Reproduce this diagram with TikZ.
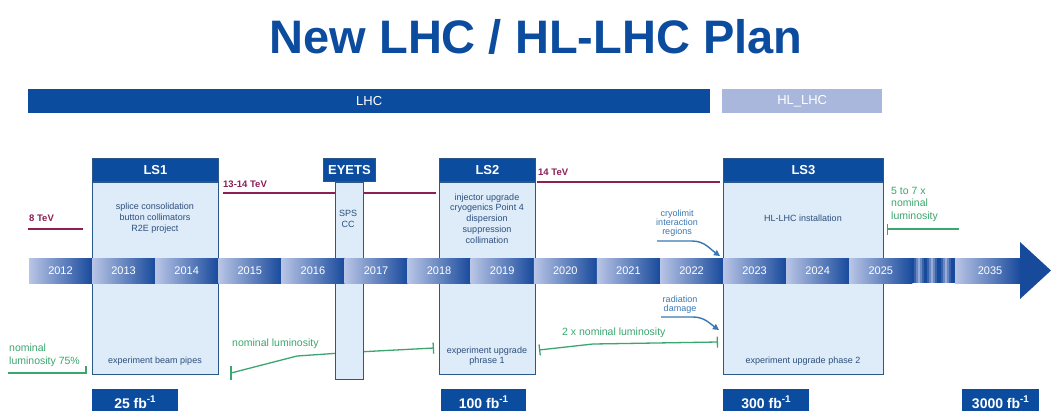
\documentclass[tikz,border=0pt]{standalone}
\usepackage{fontspec}
\setmainfont{Liberation Sans}
\usetikzlibrary{arrows.meta}

\definecolor{hlblue}{HTML}{0B4C9E}
\definecolor{hllight}{HTML}{A9B7DD}
\definecolor{boxfill}{HTML}{DDECF8}
\definecolor{boxline}{HTML}{2A5889}
\definecolor{boxtext}{HTML}{2D4E7C}
\definecolor{yrlight}{HTML}{B9C5E6}
\definecolor{yrdark}{HTML}{184A9C}
\definecolor{tevcol}{HTML}{8C1F56}
\definecolor{lumicol}{HTML}{3BA66E}
\definecolor{notecol}{HTML}{3A78B4}

\tikzset{
  lsbody/.style={draw=boxline,fill=boxfill,line width=0.9pt,inner sep=0pt},
  lshead/.style={draw=boxline,fill=hlblue,line width=0.9pt,text=white,
    font=\bfseries\fontsize{13}{13}\selectfont,inner sep=0pt,minimum height=23pt,anchor=north west},
  boxtxt/.style={text=boxtext,font=\fontsize{9}{11}\selectfont,align=center,inner sep=0pt},
  yearlbl/.style={text=white,font=\fontsize{11}{11}\selectfont},
  tevline/.style={draw=tevcol,line width=2.6pt},
  tevlbl/.style={text=tevcol,font=\bfseries\fontsize{9.5}{9.5}\selectfont,anchor=base west,inner sep=0pt},
  lumiline/.style={draw=lumicol,line width=1.3pt},
  lumilbl/.style={text=lumicol,font=\fontsize{10.5}{13}\selectfont,align=left,inner sep=0pt,anchor=west},
  notelbl/.style={text=notecol,font=\fontsize{9}{9}\selectfont,align=center,inner sep=0pt},
  noteline/.style={draw=notecol,line width=1.4pt,-{Triangle[length=6pt,width=6pt]}},
  fbbox/.style={fill=hlblue,text=white,font=\bfseries\fontsize{14}{14}\selectfont,
    minimum height=26pt,inner sep=0pt,anchor=north west},
  tick/.tip={Bar[width=11pt]}
}

\begin{document}
\begin{tikzpicture}[x=1pt,y=-1pt]
\fill[white] (0,0) rectangle (1051,410);
\useasboundingbox (0,0) rectangle (1051,410);

\node[text=hlblue,font=\bfseries\fontsize{47}{47}\selectfont,anchor=base] (title) at (536,53) {New LHC / HL-LHC Plan};

\node[fill=hlblue,text=white,font=\fontsize{13}{13}\selectfont,minimum width=682pt,minimum height=24pt,inner sep=0pt,anchor=north west] (lhc) at (28,89) {LHC};
\node[fill=hllight,text=white,font=\fontsize{13}{13}\selectfont,minimum width=160pt,minimum height=24pt,inner sep=0pt,anchor=north west] (hllhc) at (722,89) {HL\_LHC};

\draw[tevline] (28,229) -- (83,229);
\draw[tevline] (223,193) -- (436,193);
\draw[tevline] (537,182) -- (720,182);
\node[tevlbl] (e8) at (29,221) {8 TeV};
\node[tevlbl] (e13) at (223,187) {13-14 TeV};
\node[tevlbl] (e14) at (538,175) {14 TeV};

\draw[lumiline] (8,373) -- (86,373) -- (86,366);
\draw[lumiline] (231,366) -- (231,380);
\draw[lumiline,-tick] (231,373) -- (297,356) -- (348,352.5) -- (434,348);
\draw[lumiline,tick-tick] (539,350) -- (593,344) -- (718,342);
\draw[lumiline,tick-] (887,229) -- (959,229);
\node[lumilbl] (lum75) at (9,355) {nominal\\luminosity 75\%};
\node[lumilbl] (lum1) at (232,344) {nominal luminosity};
\node[lumilbl] (lum2) at (562,333) {2 x nominal luminosity};
\node[lumilbl,font=\fontsize{10.5}{12.5}\selectfont] (lum57) at (891,204) {5 to 7 x\\nominal\\luminosity};

\node[lshead,minimum width=126pt] (ls1) at (92,158) {LS1};
\node[lsbody,minimum width=126pt,minimum height=192pt,anchor=north] (ls1b) at (ls1.south) {};
\node[lshead,minimum width=52pt] (eyets) at (323,158) {EYETS};
\node[lsbody,minimum width=28pt,minimum height=197pt,anchor=north] (eyetsb) at (eyets.south) {};
\node[lshead,minimum width=96pt] (ls2) at (439,158) {LS2};
\node[lsbody,minimum width=96pt,minimum height=192pt,anchor=north] (ls2b) at (ls2.south) {};
\node[lshead,minimum width=160pt] (ls3) at (723,158) {LS3};
\node[lsbody,minimum width=160pt,minimum height=192pt,anchor=north] (ls3b) at (ls3.south) {};

\foreach \yr [count=\i from 0] in {2012,...,2025}{
  \shade[left color=yrlight,right color=yrdark] (29+63.1*\i,258) rectangle ++(63.1,25);
  \node[yearlbl] (y\yr) at (60.5+63.1*\i,270.5) {\yr};
}
\fill[yrdark] (912,258) rectangle (955,283);
\foreach \s in {914,927,941}
  \foreach \k/\c in {0/20,2/50,4/80,6/50,8/20}
    \fill[yrlight!\c!yrdark] (\s+\k,258) rectangle ++(2,25);
\shade[left color=yrlight,right color=yrdark] (955,258) rectangle (1020.5,283);
\fill[yrdark] (1020,242) -- (1051,270.5) -- (1020,299) -- cycle;
\node[yearlbl] (y2035) at (990,270.5) {2035};

\node[boxtxt] (ls1t) at (155,218) {splice consolidation\\button collimators\\R2E project};
\node[boxtxt] (ls1x) at (155,361) {experiment beam pipes};
\node[boxtxt] (eyetst) at (348,219) {SPS\\CC};
\node[boxtxt,font=\fontsize{9}{10.8}\selectfont] (ls2t) at (487,218.5) {injector upgrade\\cryogenics Point 4\\dispersion\\suppression\\collimation};
\node[boxtxt,font=\fontsize{9}{10}\selectfont] (ls2x) at (487,356) {experiment upgrade\\phrase 1};
\node[boxtxt] (ls3t) at (803,218) {HL-LHC installation};
\node[boxtxt] (ls3x) at (803,361) {experiment upgrade phase 2};

\node[notelbl] (cryo) at (677,223) {cryolimit\\interaction\\regions};
\node[notelbl] (rad) at (680,304.5) {radiation\\damage};
\coordinate (cryoend) at (720,256);
\coordinate (radend) at (719,330);
\draw[noteline] (657,241) -- (692,241) to[out=0,in=145] (cryoend);
\draw[noteline] (661,317) -- (693,317) to[out=0,in=145] (radend);

\node[fbbox,minimum width=86pt] (fb25) at (92,389) {25 fb\textsuperscript{-1}};
\node[fbbox,minimum width=85pt] (fb100) at (441,389) {100 fb\textsuperscript{-1}};
\node[fbbox,minimum width=86pt] (fb300) at (723,389) {300 fb\textsuperscript{-1}};
\node[fbbox,minimum width=77pt] (fb3000) at (962,389) {3000 fb\textsuperscript{-1}};
\end{tikzpicture}
\end{document}
